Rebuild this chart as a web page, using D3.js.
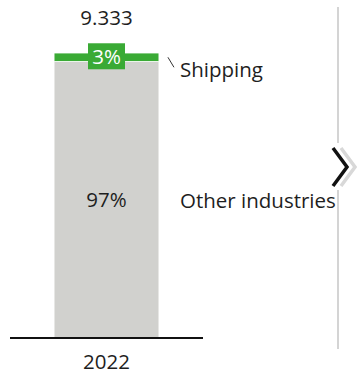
<!DOCTYPE html>
<html>
<head>
<meta charset="utf-8">
<script src="https://cdn.jsdelivr.net/npm/d3@7"></script>
<style>
  html, body { margin: 0; padding: 0; background: #fff; }
  svg { display: block; }
  text { font-family: "Open Sans", Lato, sans-serif; fill: #1e1e1e; }
</style>
</head>
<body>
<svg id="chart" width="357" height="374"></svg>
<script>
// Emissions split for a single year: total plus each segment's share
const years = ["2022"];
const totals = [9.333];
const segments = ["Other industries", "Shipping"];
const shares = [0.97, 0.03];
const shareLabels = ["97%", "3%"];
const segmentColors = ["#d1d1ce", "#3aaa35"];

const svg = d3.select("#chart");

const x = d3.scaleBand()
  .domain(years)
  .range([10, 203])
  .paddingInner(0)
  .paddingOuter(0.42);

const y = d3.scaleLinear()
  .domain([0, totals[0]])
  .range([338, 53]);

// stack the segments bottom-up
const rows = years.map((yr, i) => {
  const r = { year: yr };
  segments.forEach((s, j) => { r[s] = totals[i] * shares[j]; });
  return r;
});
const stacked = d3.stack().keys(segments)(rows);

const bx = x(years[0]);
const bw = x.bandwidth();
const cx = bx + bw / 2;
const fs = 20.5;

svg.append("g")
  .selectAll("rect")
  .data(stacked)
  .join("rect")
  .attr("x", d => x(d[0].data.year))
  .attr("width", bw)
  .attr("y", d => y(d[0][1]))
  .attr("height", d => y(d[0][0]) - y(d[0][1]))
  .attr("fill", (d, i) => segmentColors[i])
  .attr("stroke", "#fff")
  .attr("stroke-width", 0.8);

// baseline
svg.append("line")
  .attr("x1", x.range()[0]).attr("x2", x.range()[1])
  .attr("y1", y(0)).attr("y2", y(0))
  .attr("stroke", "#111").attr("stroke-width", 2.2);

// total above the bar
svg.append("text")
  .attr("x", cx).attr("y", 25)
  .attr("text-anchor", "middle")
  .attr("font-size", fs)
  .text(totals[0].toFixed(3));

// year label
svg.append("text")
  .attr("x", cx).attr("y", 369)
  .attr("text-anchor", "middle")
  .attr("font-size", fs)
  .text(years[0]);

// share inside the large segment
const other = stacked[0][0];
svg.append("text")
  .attr("x", cx).attr("y", (y(other[0]) + y(other[1])) / 2 + 7)
  .attr("text-anchor", "middle")
  .attr("font-size", fs)
  .text(shareLabels[0]);

// share badge on the thin top segment
const ship = stacked[1][0];
const shipMid = (y(ship[0]) + y(ship[1])) / 2;
svg.append("rect")
  .attr("x", cx - 18.5).attr("y", shipMid - 14)
  .attr("width", 37).attr("height", 26)
  .attr("fill", segmentColors[1]);
svg.append("text")
  .attr("x", cx).attr("y", shipMid + 7)
  .attr("text-anchor", "middle")
  .attr("font-size", fs)
  .style("fill", "#fff")
  .text(shareLabels[1]);

// segment name labels on the right
svg.append("line")
  .attr("x1", bx + bw + 9).attr("y1", shipMid)
  .attr("x2", bx + bw + 15).attr("y2", shipMid + 10)
  .attr("stroke", "#333").attr("stroke-width", 1);
svg.append("text")
  .attr("x", 180).attr("y", 77)
  .attr("font-size", fs)
  .text(segments[1]);
svg.append("text")
  .attr("x", 180).attr("y", 208)
  .attr("font-size", fs)
  .text(segments[0]);

// divider with navigation chevron
svg.append("line")
  .attr("x1", 338).attr("x2", 338)
  .attr("y1", 7).attr("y2", 143)
  .attr("stroke", "#d4d4d4").attr("stroke-width", 2);
svg.append("line")
  .attr("x1", 338).attr("x2", 338)
  .attr("y1", 190).attr("y2", 349)
  .attr("stroke", "#d4d4d4").attr("stroke-width", 2);
svg.append("path")
  .attr("d", "M341,148 L355,167 L341,186")
  .attr("fill", "none").attr("stroke", "#d8d8d8").attr("stroke-width", 3.5);
svg.append("path")
  .attr("d", "M333,148 L347,167 L333,186")
  .attr("fill", "none").attr("stroke", "#111").attr("stroke-width", 3.5);
</script>
</body>
</html>
